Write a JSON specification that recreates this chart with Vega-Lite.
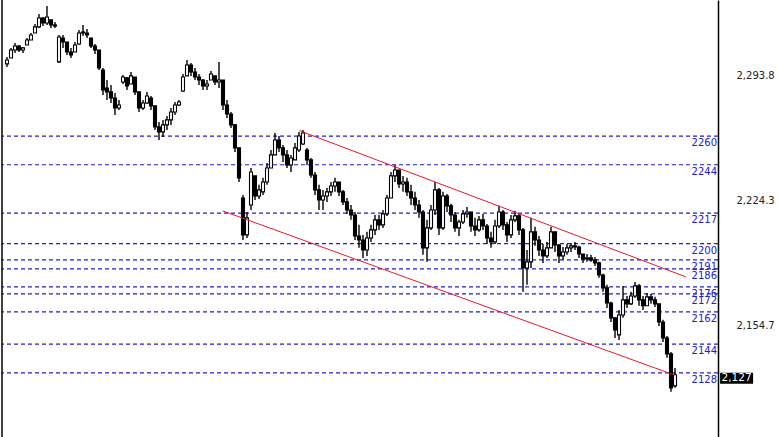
{
  "$schema": "https://vega.github.io/schema/vega-lite/v6.json",
  "width": 716,
  "height": 437,
  "autosize": {"type": "none"},
  "padding": {"left": 2, "top": 0, "right": 60, "bottom": 0},
  "background": "white",
  "config": {"view": {"stroke": null}, "scale": {"continuousPadding": 0}},
  "datasets": {
    "levels": [
      {"v": 2260}, {"v": 2244}, {"v": 2217}, {"v": 2200}, {"v": 2191}, {"v": 2186},
      {"v": 2176}, {"v": 2172}, {"v": 2162}, {"v": 2144}, {"v": 2128}
    ],
    "trend": [
      {"g": "upper", "i": 73.1, "v": 2263.0},
      {"g": "upper", "i": 169.75, "v": 2181.5},
      {"g": "lower", "i": 53.9, "v": 2218.3},
      {"g": "lower", "i": 166.75, "v": 2126.9}
    ],
    "last": [{"price": 2127}],
    "bars": [
      {"i":0,"o":2300.2,"h":2304.1,"l":2298.5,"c":2302.4},
      {"i":1,"o":2303.5,"h":2309.1,"l":2303.5,"c":2307.9},
      {"i":2,"o":2307.9,"h":2311.8,"l":2306.3,"c":2310.2},
      {"i":3,"o":2310.2,"h":2310.7,"l":2306.8,"c":2307.9},
      {"i":4,"o":2307.9,"h":2309.6,"l":2306.3,"c":2309.1},
      {"i":5,"o":2310.7,"h":2314.6,"l":2310.7,"c":2313.5},
      {"i":6,"o":2313.5,"h":2317.4,"l":2313.5,"c":2316.3},
      {"i":7,"o":2317.4,"h":2322.4,"l":2317.4,"c":2320.8},
      {"i":8,"o":2320.8,"h":2328.0,"l":2320.2,"c":2325.8},
      {"i":9,"o":2325.8,"h":2326.3,"l":2321.3,"c":2323.0},
      {"i":10,"o":2323.0,"h":2332.5,"l":2321.9,"c":2326.3},
      {"i":11,"o":2324.7,"h":2324.7,"l":2320.2,"c":2321.9},
      {"i":12,"o":2321.9,"h":2323.5,"l":2320.2,"c":2321.3},
      {"i":13,"o":2301.3,"h":2316.3,"l":2300.7,"c":2315.2},
      {"i":14,"o":2314.6,"h":2316.3,"l":2309.1,"c":2312.4},
      {"i":15,"o":2312.4,"h":2312.4,"l":2305.2,"c":2306.8},
      {"i":16,"o":2306.8,"h":2309.1,"l":2303.5,"c":2305.2},
      {"i":17,"o":2306.8,"h":2312.4,"l":2306.8,"c":2310.7},
      {"i":18,"o":2311.3,"h":2319.1,"l":2310.7,"c":2317.4},
      {"i":19,"o":2317.4,"h":2321.9,"l":2315.7,"c":2318.0},
      {"i":20,"o":2317.4,"h":2319.6,"l":2314.6,"c":2316.3},
      {"i":21,"o":2314.6,"h":2314.6,"l":2309.1,"c":2310.2},
      {"i":22,"o":2310.2,"h":2311.3,"l":2305.7,"c":2307.9},
      {"i":23,"o":2307.9,"h":2307.9,"l":2296.8,"c":2297.9},
      {"i":24,"o":2296.8,"h":2297.9,"l":2282.9,"c":2285.7},
      {"i":25,"o":2286.8,"h":2291.2,"l":2280.1,"c":2284.6},
      {"i":26,"o":2284.6,"h":2288.5,"l":2278.4,"c":2281.2},
      {"i":27,"o":2281.2,"h":2284.0,"l":2271.7,"c":2275.6},
      {"i":28,"o":2275.6,"h":2280.1,"l":2274.5,"c":2277.3},
      {"i":29,"o":2290.1,"h":2294.0,"l":2289.0,"c":2292.9},
      {"i":30,"o":2292.4,"h":2292.9,"l":2285.7,"c":2287.9},
      {"i":31,"o":2289.0,"h":2295.7,"l":2289.0,"c":2293.5},
      {"i":32,"o":2292.9,"h":2292.9,"l":2282.9,"c":2284.6},
      {"i":33,"o":2284.6,"h":2284.6,"l":2273.4,"c":2275.6},
      {"i":34,"o":2275.6,"h":2280.1,"l":2274.5,"c":2278.4},
      {"i":35,"o":2278.4,"h":2284.6,"l":2277.9,"c":2282.3},
      {"i":36,"o":2281.2,"h":2282.3,"l":2274.5,"c":2276.8},
      {"i":37,"o":2276.8,"h":2276.8,"l":2263.4,"c":2265.1},
      {"i":38,"o":2265.1,"h":2267.8,"l":2257.8,"c":2262.3},
      {"i":39,"o":2262.3,"h":2269.0,"l":2259.5,"c":2266.2},
      {"i":40,"o":2266.2,"h":2271.2,"l":2263.4,"c":2269.0},
      {"i":41,"o":2269.0,"h":2275.6,"l":2266.2,"c":2273.4},
      {"i":42,"o":2273.4,"h":2279.0,"l":2271.7,"c":2277.3},
      {"i":43,"o":2277.3,"h":2280.1,"l":2276.8,"c":2279.0},
      {"i":44,"o":2285.1,"h":2294.6,"l":2284.6,"c":2292.9},
      {"i":45,"o":2293.5,"h":2302.4,"l":2293.5,"c":2299.6},
      {"i":46,"o":2299.6,"h":2300.7,"l":2293.5,"c":2295.7},
      {"i":47,"o":2295.7,"h":2297.9,"l":2291.2,"c":2292.9},
      {"i":48,"o":2292.9,"h":2294.6,"l":2288.5,"c":2291.2},
      {"i":49,"o":2291.2,"h":2291.8,"l":2285.7,"c":2287.9},
      {"i":50,"o":2287.9,"h":2291.2,"l":2285.7,"c":2289.0},
      {"i":51,"o":2291.2,"h":2296.3,"l":2291.2,"c":2294.6},
      {"i":52,"o":2293.5,"h":2293.5,"l":2288.5,"c":2290.1},
      {"i":53,"o":2290.1,"h":2301.3,"l":2286.8,"c":2291.2},
      {"i":54,"o":2291.2,"h":2291.2,"l":2274.5,"c":2277.3},
      {"i":55,"o":2277.3,"h":2280.1,"l":2270.1,"c":2272.3},
      {"i":56,"o":2272.3,"h":2273.4,"l":2264.5,"c":2266.2},
      {"i":57,"o":2266.2,"h":2266.7,"l":2251.1,"c":2253.4},
      {"i":58,"o":2253.4,"h":2253.4,"l":2234.4,"c":2236.7},
      {"i":59,"o":2225.5,"h":2227.2,"l":2202.1,"c":2204.9},
      {"i":60,"o":2204.9,"h":2217.7,"l":2203.2,"c":2214.4},
      {"i":61,"o":2221.6,"h":2242.2,"l":2218.8,"c":2240.0},
      {"i":62,"o":2237.8,"h":2237.8,"l":2224.4,"c":2226.6},
      {"i":63,"o":2226.6,"h":2232.8,"l":2224.9,"c":2230.0},
      {"i":64,"o":2228.9,"h":2236.7,"l":2227.2,"c":2234.4},
      {"i":65,"o":2234.4,"h":2245.0,"l":2232.8,"c":2242.2},
      {"i":66,"o":2242.2,"h":2252.2,"l":2242.2,"c":2249.5},
      {"i":67,"o":2249.5,"h":2261.7,"l":2249.5,"c":2257.8},
      {"i":68,"o":2257.8,"h":2260.0,"l":2251.1,"c":2253.4},
      {"i":69,"o":2253.4,"h":2255.0,"l":2245.6,"c":2249.5},
      {"i":70,"o":2249.5,"h":2252.2,"l":2242.2,"c":2243.9},
      {"i":71,"o":2243.9,"h":2249.5,"l":2240.0,"c":2247.8},
      {"i":72,"o":2246.7,"h":2256.1,"l":2246.7,"c":2253.4},
      {"i":73,"o":2252.2,"h":2262.3,"l":2251.1,"c":2260.0},
      {"i":74,"o":2255.6,"h":2263.4,"l":2255.0,"c":2261.7},
      {"i":75,"o":2252.2,"h":2253.4,"l":2243.9,"c":2246.7},
      {"i":76,"o":2246.7,"h":2247.8,"l":2236.7,"c":2238.3},
      {"i":77,"o":2238.3,"h":2240.0,"l":2227.2,"c":2230.0},
      {"i":78,"o":2230.0,"h":2232.8,"l":2218.8,"c":2224.4},
      {"i":79,"o":2224.4,"h":2230.0,"l":2218.8,"c":2226.6},
      {"i":80,"o":2226.6,"h":2231.1,"l":2223.3,"c":2228.9},
      {"i":81,"o":2228.9,"h":2234.4,"l":2226.6,"c":2232.2},
      {"i":82,"o":2232.2,"h":2236.7,"l":2228.9,"c":2234.4},
      {"i":83,"o":2234.4,"h":2234.4,"l":2226.6,"c":2228.9},
      {"i":84,"o":2228.9,"h":2230.0,"l":2221.6,"c":2223.3},
      {"i":85,"o":2223.3,"h":2225.5,"l":2216.6,"c":2218.8},
      {"i":86,"o":2218.8,"h":2221.6,"l":2213.3,"c":2216.0},
      {"i":87,"o":2216.0,"h":2217.7,"l":2202.1,"c":2204.3},
      {"i":88,"o":2204.3,"h":2210.5,"l":2197.7,"c":2202.1},
      {"i":89,"o":2202.1,"h":2204.9,"l":2192.1,"c":2196.5},
      {"i":90,"o":2196.5,"h":2206.6,"l":2193.2,"c":2203.2},
      {"i":91,"o":2203.2,"h":2210.5,"l":2201.0,"c":2207.7},
      {"i":92,"o":2207.7,"h":2216.0,"l":2204.9,"c":2213.3},
      {"i":93,"o":2213.3,"h":2216.0,"l":2207.7,"c":2210.5},
      {"i":94,"o":2210.5,"h":2218.8,"l":2208.8,"c":2216.6},
      {"i":95,"o":2216.6,"h":2227.2,"l":2215.5,"c":2225.5},
      {"i":96,"o":2225.5,"h":2240.0,"l":2225.5,"c":2237.8},
      {"i":97,"o":2237.8,"h":2243.9,"l":2234.4,"c":2241.1},
      {"i":98,"o":2241.1,"h":2241.1,"l":2231.1,"c":2233.3},
      {"i":99,"o":2233.3,"h":2237.8,"l":2228.9,"c":2234.4},
      {"i":100,"o":2234.4,"h":2236.7,"l":2226.6,"c":2228.9},
      {"i":101,"o":2228.9,"h":2232.8,"l":2221.6,"c":2225.5},
      {"i":102,"o":2225.5,"h":2228.9,"l":2218.8,"c":2221.6},
      {"i":103,"o":2221.6,"h":2224.4,"l":2214.4,"c":2217.7},
      {"i":104,"o":2217.7,"h":2218.8,"l":2193.8,"c":2197.7},
      {"i":105,"o":2197.7,"h":2213.3,"l":2189.9,"c":2208.8},
      {"i":106,"o":2208.8,"h":2221.6,"l":2207.7,"c":2218.8},
      {"i":107,"o":2218.8,"h":2234.4,"l":2216.0,"c":2230.0},
      {"i":108,"o":2230.0,"h":2231.1,"l":2204.9,"c":2208.8},
      {"i":109,"o":2208.8,"h":2228.9,"l":2207.7,"c":2226.6},
      {"i":110,"o":2226.6,"h":2227.7,"l":2217.7,"c":2221.1},
      {"i":111,"o":2221.1,"h":2222.2,"l":2212.1,"c":2216.0},
      {"i":112,"o":2216.0,"h":2217.7,"l":2206.6,"c":2208.8},
      {"i":113,"o":2208.8,"h":2213.3,"l":2204.3,"c":2212.1},
      {"i":114,"o":2212.1,"h":2218.8,"l":2211.0,"c":2216.6},
      {"i":115,"o":2216.6,"h":2220.5,"l":2214.4,"c":2217.7},
      {"i":116,"o":2217.7,"h":2217.7,"l":2206.6,"c":2209.9},
      {"i":117,"o":2209.9,"h":2214.4,"l":2204.3,"c":2207.7},
      {"i":118,"o":2207.7,"h":2215.5,"l":2206.6,"c":2213.3},
      {"i":119,"o":2213.3,"h":2216.6,"l":2207.7,"c":2209.9},
      {"i":120,"o":2209.9,"h":2211.0,"l":2199.9,"c":2203.2},
      {"i":121,"o":2203.2,"h":2206.6,"l":2197.7,"c":2201.0},
      {"i":122,"o":2201.0,"h":2213.3,"l":2199.9,"c":2209.9},
      {"i":123,"o":2209.9,"h":2221.1,"l":2208.8,"c":2217.7},
      {"i":124,"o":2217.7,"h":2218.8,"l":2207.7,"c":2210.5},
      {"i":125,"o":2210.5,"h":2212.1,"l":2201.0,"c":2204.9},
      {"i":126,"o":2204.9,"h":2216.0,"l":2203.2,"c":2213.3},
      {"i":127,"o":2213.3,"h":2218.3,"l":2212.1,"c":2215.5},
      {"i":128,"o":2215.5,"h":2216.6,"l":2204.9,"c":2207.7},
      {"i":129,"o":2207.7,"h":2208.8,"l":2173.2,"c":2186.5},
      {"i":130,"o":2186.5,"h":2196.5,"l":2177.1,"c":2189.9},
      {"i":131,"o":2189.9,"h":2214.4,"l":2186.5,"c":2206.6},
      {"i":132,"o":2206.6,"h":2209.4,"l":2198.8,"c":2202.1},
      {"i":133,"o":2202.1,"h":2204.3,"l":2193.2,"c":2196.5},
      {"i":134,"o":2196.5,"h":2199.9,"l":2189.3,"c":2193.2},
      {"i":135,"o":2193.2,"h":2201.0,"l":2192.1,"c":2197.7},
      {"i":136,"o":2197.7,"h":2209.4,"l":2197.7,"c":2206.6},
      {"i":137,"o":2206.6,"h":2206.6,"l":2195.4,"c":2199.3},
      {"i":138,"o":2199.3,"h":2199.9,"l":2189.3,"c":2193.2},
      {"i":139,"o":2193.2,"h":2198.2,"l":2191.0,"c":2195.4},
      {"i":140,"o":2195.4,"h":2199.9,"l":2193.8,"c":2197.7},
      {"i":141,"o":2197.7,"h":2200.4,"l":2195.4,"c":2198.8},
      {"i":142,"o":2198.8,"h":2201.0,"l":2196.5,"c":2198.2},
      {"i":143,"o":2198.2,"h":2198.8,"l":2192.1,"c":2194.3},
      {"i":144,"o":2194.3,"h":2194.3,"l":2189.3,"c":2191.5},
      {"i":145,"o":2191.5,"h":2194.3,"l":2189.9,"c":2192.1},
      {"i":146,"o":2192.1,"h":2193.8,"l":2189.9,"c":2191.0},
      {"i":147,"o":2191.0,"h":2192.6,"l":2187.6,"c":2189.3},
      {"i":148,"o":2189.3,"h":2189.9,"l":2181.0,"c":2182.6},
      {"i":149,"o":2182.6,"h":2183.2,"l":2173.2,"c":2175.4},
      {"i":150,"o":2175.4,"h":2177.1,"l":2164.2,"c":2167.0},
      {"i":151,"o":2167.0,"h":2167.6,"l":2156.4,"c":2158.7},
      {"i":152,"o":2158.7,"h":2158.7,"l":2147.5,"c":2152.0},
      {"i":153,"o":2149.2,"h":2163.1,"l":2146.4,"c":2160.3},
      {"i":154,"o":2160.3,"h":2176.5,"l":2158.7,"c":2168.7},
      {"i":155,"o":2168.7,"h":2170.9,"l":2164.2,"c":2166.5},
      {"i":156,"o":2166.5,"h":2173.2,"l":2165.9,"c":2170.9},
      {"i":157,"o":2170.9,"h":2178.7,"l":2169.8,"c":2176.5},
      {"i":158,"o":2176.5,"h":2177.6,"l":2165.4,"c":2168.7},
      {"i":159,"o":2168.7,"h":2170.9,"l":2163.1,"c":2165.4},
      {"i":160,"o":2165.4,"h":2172.6,"l":2165.4,"c":2170.4},
      {"i":161,"o":2170.4,"h":2172.0,"l":2166.5,"c":2168.7},
      {"i":162,"o":2168.7,"h":2170.4,"l":2164.8,"c":2166.5},
      {"i":163,"o":2166.5,"h":2166.5,"l":2154.2,"c":2156.4},
      {"i":164,"o":2156.4,"h":2157.6,"l":2145.3,"c":2147.5},
      {"i":165,"o":2147.5,"h":2148.6,"l":2136.4,"c":2138.6},
      {"i":166,"o":2138.6,"h":2139.7,"l":2117.5,"c":2119.7},
      {"i":167,"o":2120.8,"h":2130.8,"l":2119.7,"c":2127.0}
    ]
  },
  "layer": [
    {
      "data": {"name": "levels"},
      "mark": {"type": "rule", "color": "#2020c8", "strokeWidth": 1.2, "strokeDash": [4, 3]},
      "encoding": {
        "y": {
          "field": "v", "type": "quantitative",
          "scale": {"domain": [2092.3, 2335.8], "nice": false, "zero": false, "padding": 0},
          "axis": {
            "orient": "right", "title": null, "values": [2293.8, 2224.3, 2154.7],
            "format": ",.1f", "ticks": false, "grid": false, "domainColor": "#000000",
            "domainWidth": 1.5, "labelPadding": 18, "labelFont": "DejaVu Sans",
            "labelFontSize": 10, "labelColor": "#222222"
          }
        }
      }
    },
    {
      "data": {"name": "levels"},
      "mark": {"type": "text", "align": "right", "baseline": "top", "dx": -1, "dy": 2,
               "font": "DejaVu Sans", "fontSize": 10, "color": "#2020c8"},
      "encoding": {
        "x": {"datum": 177.75, "type": "quantitative", "scale": {"domain": [-1.25, 177.75], "nice": false, "zero": false, "padding": 0}, "axis": null},
        "y": {"field": "v", "type": "quantitative", "title": null},
        "text": {"field": "v", "type": "quantitative", "format": "d"}
      }
    },
    {
      "data": {"values": [{"edge": "left"}]},
      "mark": {"type": "rule", "color": "#000000", "strokeWidth": 1.5},
      "encoding": {
        "x": {"datum": -1.25, "type": "quantitative", "scale": {"domain": [-1.25, 177.75], "nice": false, "zero": false, "padding": 0}, "axis": null}
      }
    },
    {
      "data": {"name": "bars"},
      "mark": {"type": "rule", "color": "#000000", "strokeWidth": 1.4},
      "encoding": {
        "x": {"field": "i", "type": "quantitative", "scale": {"domain": [-1.25, 177.75], "nice": false, "zero": false, "padding": 0}, "axis": null},
        "y": {"field": "l", "type": "quantitative", "title": null},
        "y2": {"field": "h"}
      }
    },
    {
      "data": {"name": "bars"},
      "mark": {"type": "bar", "size": 3, "stroke": "#000000", "strokeWidth": 1.1},
      "encoding": {
        "x": {"field": "i", "type": "quantitative", "scale": {"domain": [-1.25, 177.75], "nice": false, "zero": false, "padding": 0}, "axis": null},
        "y": {"field": "o", "type": "quantitative", "title": null},
        "y2": {"field": "c"},
        "fill": {"condition": {"test": "datum.c < datum.o", "value": "#000000"}, "value": "#ffffff"}
      }
    },
    {
      "data": {"name": "trend"},
      "mark": {"type": "line", "color": "#e8182a", "strokeWidth": 1},
      "encoding": {
        "x": {"field": "i", "type": "quantitative", "scale": {"domain": [-1.25, 177.75], "nice": false, "zero": false, "padding": 0}, "axis": null},
        "y": {"field": "v", "type": "quantitative", "title": null},
        "detail": {"field": "g"}
      }
    },
    {
      "data": {"name": "last"},
      "mark": {"type": "point", "shape": "M-1,-0.12H1V0.55H-1Z", "filled": true, "color": "#000000", "opacity": 1, "size": 1089},
      "encoding": {
        "x": {"datum": 182.4, "type": "quantitative", "scale": {"domain": [-1.25, 177.75], "nice": false, "zero": false, "padding": 0}, "axis": null},
        "y": {"field": "price", "type": "quantitative", "title": null}
      }
    },
    {
      "data": {"name": "last"},
      "mark": {"type": "text", "color": "#ffffff", "font": "DejaVu Sans", "fontSize": 10.5, "baseline": "middle", "dy": 3.5},
      "encoding": {
        "x": {"datum": 182.4, "type": "quantitative", "scale": {"domain": [-1.25, 177.75], "nice": false, "zero": false, "padding": 0}, "axis": null},
        "y": {"field": "price", "type": "quantitative", "title": null},
        "text": {"field": "price", "type": "quantitative", "format": ",d"}
      }
    }
  ]
}
